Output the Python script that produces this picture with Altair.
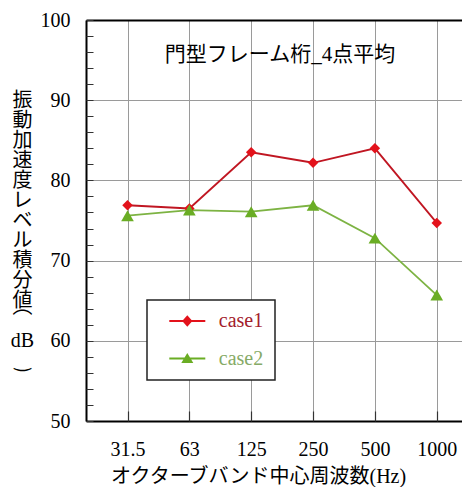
import altair as alt
import pandas as pd

# ---- data ----
bands = ["31.5", "63", "125", "250", "500", "1000"]
case1 = [76.9, 76.5, 83.5, 82.2, 84.0, 74.7]
case2 = [75.6, 76.3, 76.1, 76.9, 72.8, 65.7]
series = ["case1", "case2"]
y_major = [50, 60, 70, 80, 90, 100]
y_minor = list(range(50, 101, 2))
chart_title = "門型フレーム桁_4点平均"
x_title = "オクターブバンド中心周波数(Hz)"
y_title = ["振", "動", "加", "速", "度", "レ", "ベ", "ル", "積", "分", "値", "⌒", "dB", "‿"]

rows = []
for b, v1, v2 in zip(bands, case1, case2):
    rows.append({"band": b, "case": "case1", "value": v1})
    rows.append({"band": b, "case": "case2", "value": v2})
df = pd.DataFrame(rows)

FONT = "Liberation Serif, Noto Sans CJK JP, DejaVu Sans"
line_col = {"case1": "#c01622", "case2": "#7db343"}
mark_col = {"case1": "#e3121b", "case2": "#6aad24"}
mark_shape = {"case1": "diamond", "case2": "triangle-up"}
mark_size = {"case1": 110, "case2": 160}
legend_shapes = [
    "M-3,-0.17H3V0.17H-3Z M0,-0.95L0.85,0L0,0.95L-0.85,0Z",
    "M-3,-0.17H3V0.17H-3Z M0,-0.9L1,0.75L-1,0.75Z",
]

xscale = alt.Scale(type="point", domain=bands, padding=0.5397, align=0.6217)
yscale = alt.Scale(domain=[50, 100], nice=False, zero=False)

base = alt.Chart(df)

main_x = alt.Axis(orient="bottom", grid=True, gridColor="#9a9a9a", gridWidth=1,
                  ticks=False, domain=True, domainColor="black", domainWidth=2,
                  labelFont=FONT, labelFontSize=20, labelColor="black", labelPadding=18,
                  labelAngle=0, title=x_title, titleFont=FONT, titleFontSize=20,
                  titleFontWeight="normal", titleColor="black", titleAlign="center",
                  titleBaseline="alphabetic", titleX=172, titleY=61)
main_y = alt.Axis(orient="left", values=y_major, grid=True, gridColor="#9a9a9a", gridWidth=1,
                  ticks=False, domain=True, domainColor="black", domainWidth=2,
                  labelFont=FONT, labelFontSize=20, labelColor="black", labelPadding=16,
                  title=y_title, titleFont=FONT, titleFontSize=20, titleFontWeight="normal",
                  titleColor="black", titleAngle=0, titleAlign="center",
                  titleBaseline="alphabetic", titleX=-64, titleY=86, titleLineHeight=20)
tick_x = alt.Axis(orient="bottom", offset=-10, labels=False, ticks=True, tickSize=10,
                  tickColor="#333333", tickWidth=1.2, domain=False, grid=False, title=None)
tick_y = alt.Axis(orient="left", offset=-7, values=y_minor, labels=False, ticks=True,
                  tickSize=7, tickColor="#333333", tickWidth=1, domain=False, grid=False,
                  title=None)
top_x = alt.Axis(orient="top", labels=False, ticks=False, grid=False, domain=True,
                 domainColor="black", domainWidth=2, title=None)

layers = []
axes_x = [main_x, tick_x]
axes_y = [main_y, tick_y]
for i, s in enumerate(series):
    layers.append(
        base.transform_filter(alt.datum.case == s)
        .mark_line(color=line_col[s], strokeWidth=1.8)
        .encode(x=alt.X("band:O", scale=xscale, axis=axes_x[i]),
                y=alt.Y("value:Q", scale=yscale, axis=axes_y[i]))
    )
for i, s in enumerate(series):
    layers.append(
        base.transform_filter(alt.datum.case == s)
        .mark_point(shape=mark_shape[s], filled=True, size=mark_size[s],
                    color=mark_col[s], opacity=1)
        .encode(x=alt.X("band:O", scale=xscale, axis=top_x if i == 0 else None),
                y=alt.Y("value:Q", scale=yscale, axis=None))
    )

leg = dict(orient="none", legendX=61, legendY=280, title=None, padding=11,
           rowPadding=17.5, symbolSize=144, symbolOffset=19.3, labelOffset=21.5,
           labelFont=FONT, labelFontSize=20,
           labelColor={"expr": "datum.value == 'case1' ? '#a3202c' : '#86aa66'"},
           strokeColor="#222222", fillColor="white", symbolOpacity=1,
           symbolStrokeWidth=0, labelExpr="datum.label + '      '")

legend_layer = base.mark_point(filled=True, opacity=0).encode(
    x=alt.X("band:O", scale=xscale, axis=None),
    y=alt.Y("value:Q", scale=yscale, axis=None),
    color=alt.Color("case:N", scale=alt.Scale(domain=series,
                    range=[mark_col[s] for s in series]), legend=alt.Legend(**leg)),
    shape=alt.Shape("case:N", scale=alt.Scale(domain=series, range=legend_shapes),
                    legend=alt.Legend(**leg)),
)
layers.append(legend_layer)

title_layer = alt.Chart(pd.DataFrame({"t": [chart_title]})).mark_text(
    font=FONT, fontSize=21, color="black", align="center", baseline="middle"
).encode(text="t:N", x=alt.value(194), y=alt.value(35))
layers.append(title_layer)

chart = alt.layer(*layers).resolve_axis(x="independent", y="independent").properties(
    width=376, height=401,
    autosize=alt.AutoSizeParams(type="none"),
    padding={"left": 78, "top": 12, "right": 0, "bottom": 66},
).configure_view(stroke=None).configure_legend(strokeWidth=1.5)

chart.save("out.html", embed_options={"renderer": "svg", "actions": False})
